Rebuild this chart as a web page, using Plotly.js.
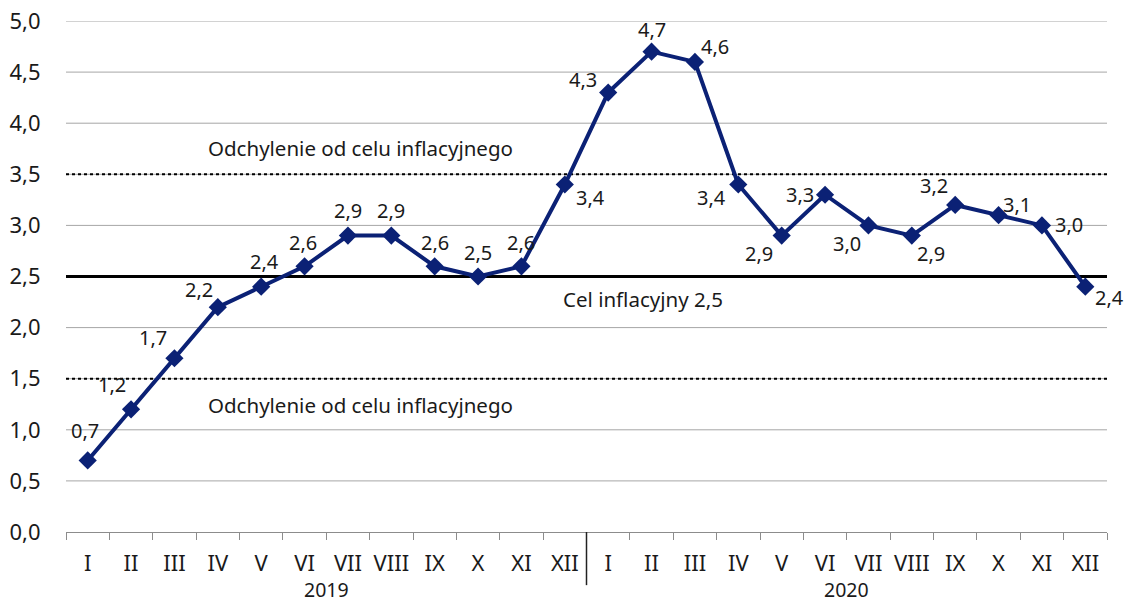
<!DOCTYPE html>
<html><head><meta charset="utf-8">
<script src="https://cdn.plot.ly/plotly-3.0.1.min.js"></script>
<style>html,body{margin:0;padding:0;background:#fff}#c{width:1131px;height:604px}</style>
</head><body><div id="c"></div>
<script>
const months = ["I","II","III","IV","V","VI","VII","VIII","IX","X","XI","XII","I","II","III","IV","V","VI","VII","VIII","IX","X","XI","XII"];
const years = ["2019","2020"];
const inflation = [0.7,1.2,1.7,2.2,2.4,2.6,2.9,2.9,2.6,2.5,2.6,3.4,4.3,4.7,4.6,3.4,2.9,3.3,3.0,2.9,3.2,3.1,3.0,2.4];
const yTicks = [0,0.5,1,1.5,2,2.5,3,3.5,4,4.5,5];
const target = 2.5;
const upperBand = 3.5;
const lowerBand = 1.5;
const bandLabel = "Odchylenie od celu inflacyjnego";
const targetLabel = "Cel inflacyjny 2,5";

// label offsets in pixels (style only)
const labelDx = [-3,-19,-21,-19,3,-2,0,0,0,0,0,26,-25,0,20,-27,-23,-25,-21,19,-21,18,27,24];
const labelDy = [30,25,21,18,25,24,25,25,24,24,24,-13,13,22,15,-13,-18,0,-18,-18,19,11,1,-11];

const idx = months.map((m,i)=>i);
const FONT = "Noto Sans";
const TXT = "#1a1a1a";
const NAVY = "#0b2175";
const tickFont = {family: FONT, size: 22, color: TXT};
const labelFont = {family: FONT, size: 20, color: TXT};
const yearFont = {family: FONT, size: 19.5, color: TXT};
const noteFont = {family: FONT, size: 20.5, color: TXT};

const trace = {
  x: idx, y: inflation, type: "scatter", mode: "lines+markers",
  line: {color: NAVY, width: 4},
  marker: {symbol: "diamond", size: 14, color: NAVY},
  cliponaxis: false, hoverinfo: "skip"
};

const n = months.length;
const minorVals = [];
for (let i = 0; i <= n; i++) minorVals.push(i - 0.5);

const valueLabels = inflation.map((v,i)=>({
  x: i, y: v, xref: "x", yref: "y", showarrow: false,
  text: v.toFixed(1).replace(".", ","),
  xshift: labelDx[i], yshift: labelDy[i], font: labelFont
}));

const gridShapes = yTicks.filter(t => t > 0).map(t => ({
  type: "line", xref: "paper", x0: 0, x1: 1, yref: "y", y0: t, y1: t,
  line: {color: "#a6a6a6", width: 1}, layer: "below"
}));

const layout = {
  width: 1131, height: 604,
  margin: {l: 66, r: 24, t: 21, b: 72},
  paper_bgcolor: "#fff", plot_bgcolor: "#fff",
  separators: ", ",
  showlegend: false,
  font: {family: FONT, size: 20, color: TXT},
  xaxis: {
    range: [-0.5, n - 0.5], tickmode: "array", tickvals: idx, ticktext: months,
    showgrid: false, zeroline: false, showline: true, linecolor: "#8c8c8c", linewidth: 1,
    ticks: "outside", ticklen: 12, tickcolor: "rgba(0,0,0,0)", tickfont: tickFont,
    minor: {tickmode: "array", tickvals: minorVals, ticks: "outside", ticklen: 7, tickcolor: "#8c8c8c", tickwidth: 1, showgrid: false}
  },
  yaxis: {
    range: [0, 5], tickmode: "array", tickvals: yTicks, tickformat: ".1f",
    showgrid: false, zeroline: false, showline: false,
    ticks: "outside", ticklen: 20, tickcolor: "rgba(0,0,0,0)", tickfont: tickFont
  },
  shapes: gridShapes.concat([
    {type: "line", xref: "paper", x0: 0, x1: 1, yref: "y", y0: upperBand, y1: upperBand, line: {color: "#000", width: 2, dash: "dot"}, layer: "below"},
    {type: "line", xref: "paper", x0: 0, x1: 1, yref: "y", y0: lowerBand, y1: lowerBand, line: {color: "#000", width: 2, dash: "dot"}, layer: "below"},
    {type: "line", xref: "paper", x0: 0, x1: 1, yref: "y", y0: target, y1: target, line: {color: "#000", width: 3}, layer: "below"},
    {type: "line", xref: "x", x0: 11.5, x1: 11.5, yref: "paper", y0: 0, y1: -0.104, line: {color: "#222", width: 1.5}}
  ]),
  annotations: [
    {x: 6.28, y: 3.757, xref: "x", yref: "y", text: bandLabel, showarrow: false, font: noteFont},
    {x: 6.28, y: 1.243, xref: "x", yref: "y", text: bandLabel, showarrow: false, font: noteFont},
    {x: 12.8, y: 2.28, xref: "x", yref: "y", text: targetLabel, showarrow: false, font: noteFont},
    {x: 5.5, y: -0.1405, xref: "x", yref: "paper", text: years[0], showarrow: false, yanchor: "bottom", borderpad: 0, font: yearFont},
    {x: 17.5, y: -0.1405, xref: "x", yref: "paper", text: years[1], showarrow: false, yanchor: "bottom", borderpad: 0, font: yearFont}
  ].concat(valueLabels)
};

Plotly.newPlot("c", [trace], layout, {displayModeBar: false, staticPlot: true});
</script>
</body></html>
